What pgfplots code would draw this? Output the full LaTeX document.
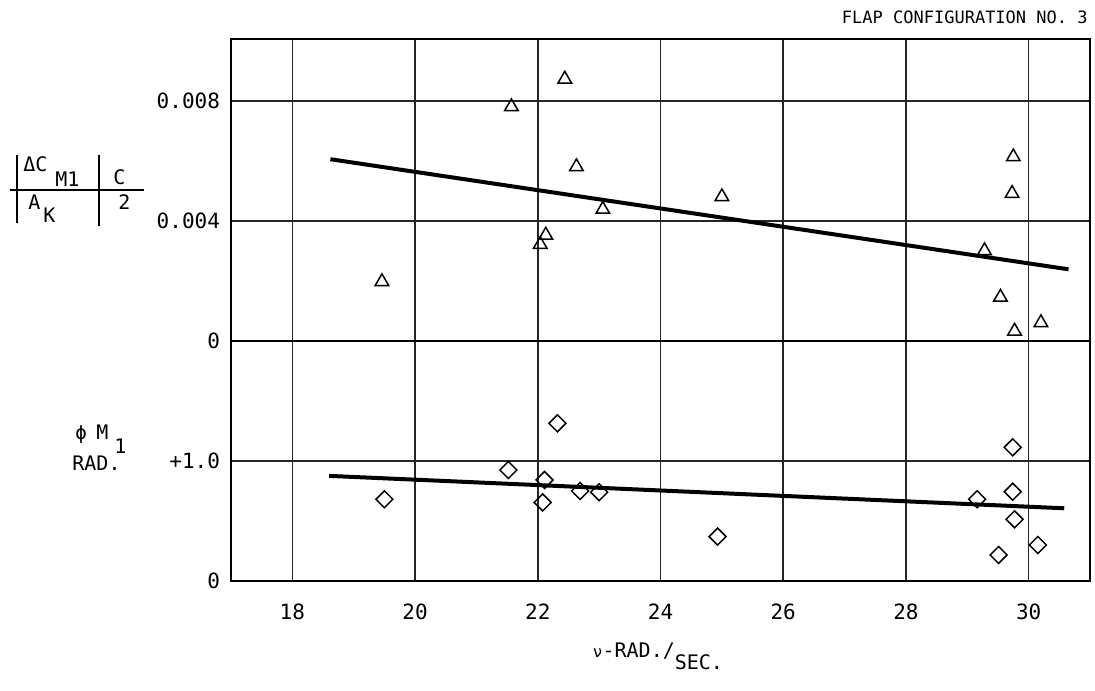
\documentclass[border=0pt]{standalone}
\usepackage{fontspec}
\setmainfont{DejaVu Sans Mono}
\usepackage{pgfplots}
\pgfplotsset{compat=1.18}
\usepackage{pgfplotstable}

% upper series: Delta C_M1 / A_K * c/2
\pgfplotstableread{
x y
19.46 0.00198
21.57 0.00781
22.44 0.00873
22.63 0.00581
23.06 0.00439
22.13 0.00353
22.04 0.00322
25.00 0.00481
29.75 0.00614
29.73 0.00492
29.28 0.00301
29.54 0.00146
29.77 0.00033
30.20 0.00061
}\tri

% lower series: phi M1 (rad)
\pgfplotstableread{
x y
19.50 0.681
21.52 0.925
22.32 1.314
22.11 0.842
22.08 0.655
22.69 0.750
23.00 0.740
24.93 0.370
29.16 0.681
29.74 1.114
29.74 0.744
29.77 0.514
29.51 0.217
30.15 0.300
}\dia

\pgfplotstableread{
x y
18.62 0.00606
30.65 0.00239
}\trifit

\pgfplotstableread{
x y
18.60 0.876
30.58 0.606
}\diafit

\begin{document}
\begin{tikzpicture}
\begin{scope}[x=0.5pt,y=-0.5pt,shift={(-231,-581)}]
\useasboundingbox (0,0) rectangle (1095,690);
\end{scope}
\begin{axis}[
  scale only axis, width=429.5pt, height=271pt,
  xmin=17, xmax=31, ymin=0, ymax=4.517,
  xtick={18,20,...,30},
  ytick={0,1,2,3,4}, yticklabels={0,+1.0,0,0.004,0.008},
  major tick length=0pt,
  grid=major, grid style={black!85, line width=0.75pt},
  axis line style={black, line width=1.1pt},
  tick label style={font=\fontsize{10.5}{12}\selectfont},
  /pgf/number format/assume math mode=true,
  xticklabel style={yshift=-8pt},
  yticklabel style={xshift=-2pt},
  clip=false,
]
\draw[black, line width=1.2pt] (axis cs:17,2) -- (axis cs:31,2);
\addplot[black, line width=2pt] table[x=x, y expr=2+\thisrow{y}/0.004] {\trifit};
\addplot[black, line width=2pt] table[x=x, y=y] {\diafit};
\addplot[only marks, mark=triangle, mark size=3.9pt, mark options={black, fill=white, line width=0.75pt}]
  table[x=x, y expr=2+\thisrow{y}/0.004] {\tri};
\addplot[only marks, mark=square, mark size=3.0pt, mark options={black, fill=white, line width=0.75pt, rotate=45}]
  table[x=x, y=y] {\dia};
\end{axis}
\begin{scope}[x=0.5pt,y=-0.5pt,shift={(-231,-581)}, every node/.style={inner sep=0pt, font=\fontsize{10}{12}\selectfont}]
\node[anchor=base east, font=\fontsize{8.5}{10}\selectfont] at (1088,24) {FLAP CONFIGURATION NO. 3};
% fraction-like ordinate label
\draw[line width=0.8pt] (10,190) -- (144,190);
\draw[line width=0.8pt] (17,155) -- (17,223);
\draw[line width=0.8pt] (99,155) -- (99,226);
\node[anchor=base west] at (23,172) {ΔC};
\node[anchor=base west] at (55,187) {M1};
\node[anchor=base west] at (113,185) {C};
\node[anchor=base west] at (28,210) {A};
\node[anchor=base west] at (43,223) {K};
\node[anchor=base west] at (118,210) {2};
% phi label
\node[anchor=base west, font=\fontsize{9.5}{10}\selectfont] at (75,440) {ϕ};
\node[anchor=base west] at (96,440) {M};
\node[anchor=base west] at (114,453) {1};
\node[anchor=base west] at (72,470) {RAD.};
% x label
\node[anchor=base] at (658,657) {{\fontsize{8}{9}\selectfont ν}-RAD./\raisebox{-1.1ex}{SEC.}};
\end{scope}
\end{tikzpicture}
\end{document}
